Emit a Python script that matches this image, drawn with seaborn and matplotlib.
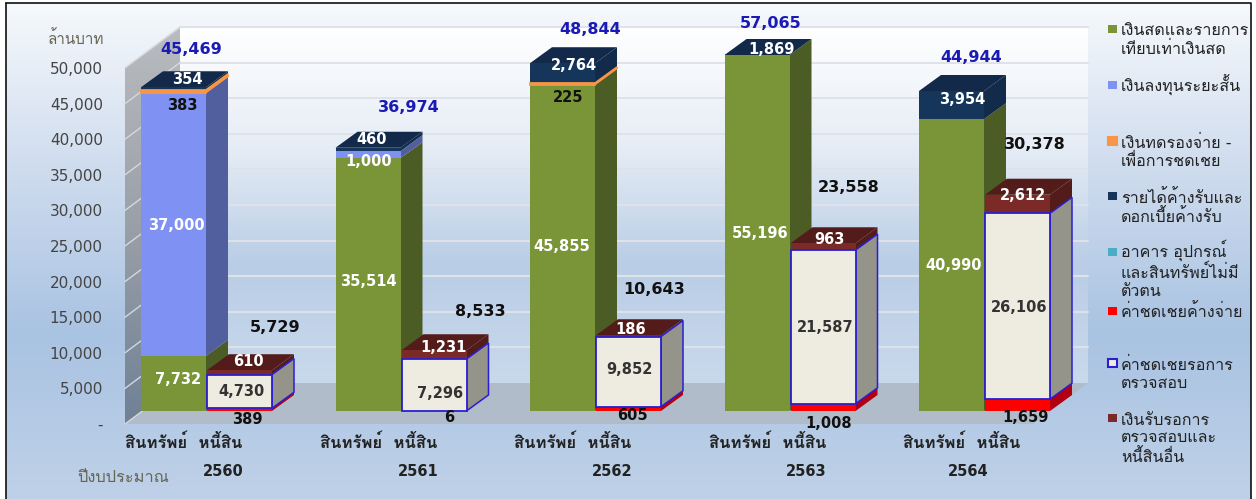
import numpy as np
import pandas as pd
import matplotlib.pyplot as plt
import seaborn as sns
from matplotlib.colors import LinearSegmentedColormap
from matplotlib.patches import Polygon, Rectangle
from matplotlib.ticker import FuncFormatter
from matplotlib import font_manager as fm

years = ['2560', '2561', '2562', '2563', '2564']

# assets
cash = [7732, 35514, 45855, 55196, 40990]
short_invest = [37000, 1000, 0, 0, 0]
advances = [383, 0, 225, 0, 0]
accrued_income = [354, 460, 2764, 1869, 3954]
asset_totals = [45469, 36974, 48844, 57065, 44944]

# liabilities
accrued_comp = [389, 6, 605, 1008, 1659]
pending_comp = [4730, 7296, 9852, 21587, 26106]
other_liab = [610, 1231, 186, 963, 2612]
liab_totals = [5729, 8533, 10643, 23558, 30378]

axis_max = 50000

legend_labels = ['เงินสดและรายการ\nเทียบเท่าเงินสด', 'เงินลงทุนระยะสั้น', 'เงินทดรองจ่าย -\nเพื่อการชดเชย',
                 'รายได้ค้างรับและ\nดอกเบี้ยค้างรับ', 'อาคาร อุปกรณ์\nและสินทรัพย์ไม่มี\nตัวตน', 'ค่าชดเชยค้างจ่าย',
                 'ค่าชดเชยรอการ\nตรวจสอบ', 'เงินรับรอการ\nตรวจสอบและ\nหนี้สินอื่น']

W, H = 1256, 499
K = 0.00712  # px per baht-million
sns.set_theme(style='white')

# look for a family with thai glyphs
thai_fonts = []
for f in fm.fontManager.ttflist:
    try:
        if ord('น') in fm.get_font(f.fname).get_charmap() and f.name not in thai_fonts:
            thai_fonts.append(f.name)
    except Exception:
        pass
plt.rcParams['font.family'] = ['DejaVu Sans'] + thai_fonts

fig = plt.figure(figsize=(W / 100, H / 100), dpi=100, facecolor='white')
ax = fig.add_axes([0, 0, 1, 1])
ax.set_axis_off()


def val(py):
    return (411 - py) / K


def grad(extent, stops, clip=None, z=0):
    cm = LinearSegmentedColormap.from_list('g', stops)
    im = ax.imshow(np.linspace(0, 1, 256)[:, None], cmap=cm, aspect='auto', zorder=z,
                   extent=[extent[0], extent[1], val(extent[3]), val(extent[2])])
    if clip is not None:
        poly = Polygon([(x, val(y)) for x, y in clip], transform=ax.transData, fc='none', ec='none')
        ax.add_patch(poly)
        im.set_clip_path(poly)


# panel and back wall
grad((6, 1251, 4, 499), ['#f6f9fc', '#cfdcee', '#a9c3e2', '#bfd1e8'], z=0)
grad((180, 1088, 28, 383), ['#ffffff', '#e6edf6', '#b9cde6', '#c9d9ec'], z=0.5)
grad((125, 180, 28, 424), ['#b9bcc0', '#9aa0a8', '#6f8096'],
     clip=[(125, 68), (180, 28), (180, 383), (125, 424)], z=1)
ax.add_patch(Polygon([(125, val(424)), (180, val(383)), (1088, val(383)), (1033, val(424))],
                     fc='#b1bccb', ec='none', zorder=1))
for v in range(0, axis_max + 1, 5000):
    if v > 0:
        ax.plot([180, 1088], [v + 28 / K, v + 28 / K], color='#dfe3e8', lw=1.4, zorder=1.5)
    ax.plot([125, 180], [v - 13 / K, v + 28 / K], color='#d5d8dc', lw=1, zorder=1.5)
ax.plot([6, 1251, 1251], [val(3.5), val(3.5), val(499)], color='#111111', lw=1.2, zorder=9)
ax.plot([5.5, 5.5], [val(3.5), val(499)], color='#111111', lw=1.2, zorder=9)

bar_w = 65
step = 194.5
x_assets = [141 + bar_w / 2 + i * step for i in range(5)]
x_liab = [207 + bar_w / 2 + i * step for i in range(5)]
dx, dy = 22, 16 / K

df_a = pd.DataFrame({'x': x_assets, 'cash': cash, 'short': short_invest, 'adv': advances, 'acc': accrued_income})
df_l = pd.DataFrame({'x': x_liab, 'comp': accrued_comp, 'pend': pending_comp, 'other': other_liab})


def stack(df, cols, colors, sides, top_color, z, edge={}):
    for _, row in df.iterrows():
        x = row['x']
        bottom = 0
        for c in cols:
            # the value axis stops at axis_max, taller stacks are cut there
            v = min(row[c], axis_max - bottom)
            if v <= 0:
                continue
            ec = edge.get(c)
            lift = 1 if c in edge else 0
            sns.barplot(x=[x], y=[v], native_scale=True, width=bar_w, bottom=bottom,
                        color=colors[c], saturation=1, errorbar=None, ax=ax, zorder=z + 1 + lift,
                        edgecolor=ec if ec else 'none', linewidth=1.3 if ec else 0)
            r = x + bar_w / 2
            ax.add_patch(Polygon([(r, bottom), (r + dx, bottom + dy), (r + dx, bottom + v + dy), (r, bottom + v)],
                                 fc=sides[c], ec=ec if ec else 'none', lw=1.1 if ec else 0, zorder=z + lift * 0.5))
            bottom += v
        l = x - bar_w / 2
        ax.add_patch(Polygon([(l, bottom), (l + dx, bottom + dy), (l + bar_w + dx, bottom + dy), (l + bar_w, bottom)],
                             fc=top_color, ec='none', zorder=z))


stack(df_a, ['cash', 'short', 'adv', 'acc'],
      {'cash': '#7a9438', 'short': '#7f92f3', 'adv': '#f79646', 'acc': '#15355b'},
      {'cash': '#4c5c25', 'short': '#525f9e', 'adv': '#f79646', 'acc': '#122b4b'},
      '#12294a', 3, edge={'adv': '#f79646'})
stack(df_l, ['comp', 'pend', 'other'],
      {'comp': '#ff0000', 'pend': '#eeebe0', 'other': '#7b2a28'},
      {'comp': '#b00012', 'pend': '#94948a', 'other': '#531c1a'},
      '#531c1a', 6, edge={'pend': '#2a1fd0'})

ax.set_xlim(0, W)
ax.set_ylim(val(H), val(0))
ax.set_axis_off()

# value axis sits on the front edge of the side wall
wall = fig.add_axes([125 / W, (H - 424) / H, 1 / W, 356 / H])
wall.set_frame_on(False)
wall.set_xticks([])
wall.set_ylim(0, axis_max)
wall.set_yticks(range(0, axis_max + 1, 5000))
wall.yaxis.set_major_formatter(FuncFormatter(lambda v, p: '-' if v == 0 else f'{int(v):,}'))
wall.tick_params(axis='y', length=0, pad=16, labelsize=11, labelcolor='#444444')


def txt(x, y, s, size=10.5, color='white', weight='bold', **kw):
    fig.text(x / W, 1 - y / H, s, fontsize=size, color=color, fontweight=weight,
             ha=kw.pop('ha', 'center'), va=kw.pop('va', 'center'), zorder=20, **kw)


total_pos = [(191, 50), (409, 107), (590, 30), (771, 24), (971, 58)]
for (x, y), v in zip(total_pos, asset_totals):
    txt(x, y, f'{v:,}', 11.5, '#1a1ab4')
liab_pos = [(275, 327), (480, 312), (654, 289), (849, 187), (1035, 144)]
for (x, y), v in zip(liab_pos, liab_totals):
    txt(x, y, f'{v:,}', 11.5, '#111111')

seg_labels = [
    (cash, [(178, 379), (368, 281), (562, 247), (760, 234), (954, 266)], 'white'),
    (short_invest, [(176, 225), (369, 162), None, None, None], 'white'),
    (advances, [(182, 105), None, (568, 97), None, None], '#111111'),
    (accrued_income, [(187, 79), (372, 139), (574, 65), (772, 49), (962, 100)], 'white'),
    (accrued_comp, [(247, 420), (449, 418), (632, 416), (829, 423), (1025, 418)], '#111111'),
    (pending_comp, [(241, 392), (440, 393), (629, 369), (825, 328), (1019, 307)], '#333333'),
    (other_liab, [(248, 362), (444, 348), (631, 329), (829, 240), (1023, 196)], 'white'),
]
for vals, pos, col in seg_labels:
    for v, p in zip(vals, pos):
        if p is not None:
            txt(p[0], p[1], f'{v:,}', 10.5, col)

year_x = [223, 418, 612, 806, 968]
for i, (x, y) in enumerate(zip(year_x, years)):
    txt(184 + i * step, 443, 'สินทรัพย์  หนี้สิน', 12, '#222222')
    txt(x, 472, y, 10.5, '#222222')
txt(76, 39, 'ล้านบาท', 11, '#666655', 'normal')
txt(123, 478, 'ปีงบประมาณ', 11.8, '#666655', 'normal')

swatches = ['#7a9438', '#7f92f3', '#f79646', '#15355b', '#4bacc6', '#ff0000', '#eeebe0', '#7b2a28']
edges = [None, None, '#f79646', None, None, None, '#2a1fd0', None]
leg_y = [29, 85, 141, 196, 252, 311, 363, 418]
text_y = [40, 85, 152, 207, 269, 312, 374, 439]
for s, e, y, ty, lab in zip(swatches, edges, leg_y, text_y, legend_labels):
    fig.add_artist(Rectangle((1108 / W, 1 - (y + 4) / H), 9 / W, 8 / H, transform=fig.transFigure,
                             fc=s, ec=e if e else 'none', lw=1.5, zorder=20))
    txt(1121, ty, lab, 11.6, '#222222', 'normal', ha='left', linespacing=1.2)

plt.savefig('out.png', dpi=100)
